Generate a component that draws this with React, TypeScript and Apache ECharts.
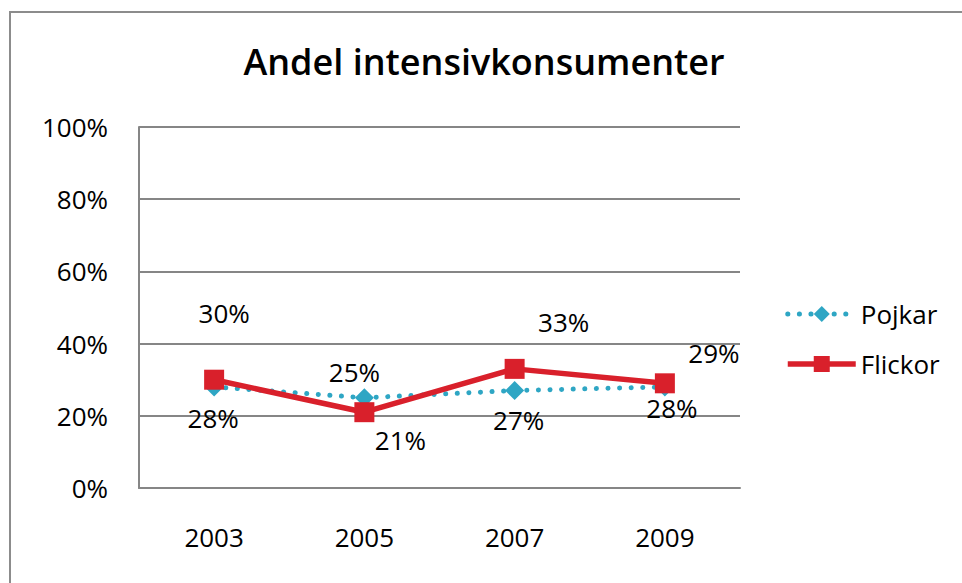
import React, { useEffect, useRef } from "react";
import * as echarts from "echarts";

const years = ["2003", "2005", "2007", "2009"];
const pojkar = [28, 25, 27, 28];
const flickor = [30, 21, 33, 29];
// label offsets (px) relative to each point, as placed in the reference
const pojkarLabelOffsets = [[-1, 31], [-10, -26], [4, 29], [7, 21]];
const flickorLabelOffsets = [[10, -67], [36, 28], [49, -47], [49, -30]];

const FONT = "Open Sans";
const BLUE = "#2ea6c4";
const RED = "#d9202b";

export default function App() {
  const ref = useRef<HTMLDivElement>(null);
  useEffect(() => {
    if (!ref.current) return;
    const chart = echarts.init(ref.current, null, { renderer: "svg" });
    const mk = (vals: number[], offs: number[][]) =>
      vals.map((v, i) => ({ value: v, label: { offset: offs[i] } }));
    const dotted = { color: BLUE, width: 5, type: [0.1, 11.5], cap: "round" };
    const solid = { color: RED, width: 5.5 };
    chart.setOption({
      animation: false,
      backgroundColor: "#fff",
      graphic: [
        {
          type: "rect",
          shape: { x: 10, y: 12, width: 1000, height: 700 },
          style: { fill: "none", stroke: "#8c8c8c", lineWidth: 2 },
          silent: true,
        },
      ],
      title: {
        text: "Andel intensivkonsumenter",
        left: 479,
        textAlign: "center",
        top: 38,
        textStyle: { fontFamily: FONT, fontSize: 36, fontWeight: 600, color: "#000" },
      },
      legend: {
        orient: "vertical",
        left: 780,
        top: 296,
        itemGap: 24,
        itemWidth: 68,
        itemHeight: 20,
        textStyle: { fontFamily: FONT, fontSize: 26, color: "#000", padding: [0, 0, 0, 0] },
        data: [
          { name: "Pojkar", lineStyle: dotted },
          { name: "Flickor", lineStyle: solid },
        ],
      },
      grid: { left: 139, top: 127, width: 601, height: 361 },
      xAxis: {
        type: "category",
        data: years,
        boundaryGap: true,
        axisLine: { lineStyle: { color: "#868686", width: 2 } },
        axisTick: { show: false },
        axisLabel: { fontFamily: FONT, fontSize: 26, color: "#000", margin: 36 },
      },
      yAxis: {
        type: "value",
        min: 0,
        max: 100,
        interval: 20,
        axisLine: { show: true, lineStyle: { color: "#868686", width: 2 } },
        axisTick: { show: false },
        splitLine: { lineStyle: { color: "#868686", width: 2 } },
        axisLabel: { fontFamily: FONT, fontSize: 26, color: "#000", margin: 31, formatter: "{value}%" },
      },
      series: [
        {
          name: "Pojkar",
          type: "line",
          data: mk(pojkar, pojkarLabelOffsets),
          symbol: "diamond",
          symbolSize: 19,
          itemStyle: { color: BLUE },
          lineStyle: dotted,
          label: {
            show: true,
            position: "inside",
            formatter: "{c}%",
            fontFamily: FONT,
            fontSize: 26,
            color: "#000",
          },
          z: 2,
        },
        {
          name: "Flickor",
          type: "line",
          data: mk(flickor, flickorLabelOffsets),
          symbol: "rect",
          symbolSize: 20,
          itemStyle: { color: RED },
          lineStyle: solid,
          label: {
            show: true,
            position: "inside",
            formatter: "{c}%",
            fontFamily: FONT,
            fontSize: 26,
            color: "#000",
          },
          z: 3,
        },
      ],
    });
    return () => chart.dispose();
  }, []);
  return (
    <div
      ref={ref}
      style={{ position: "fixed", left: 0, top: 0, width: 962, height: 583 }}
    />
  );
}
